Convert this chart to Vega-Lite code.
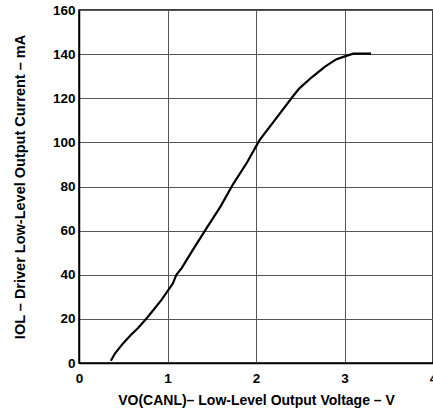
{
  "$schema": "https://vega.github.io/schema/vega-lite/v6.json",
  "autosize": {"type": "none"},
  "padding": {"left": 79, "top": 10, "right": 0, "bottom": 50},
  "width": 354,
  "height": 353,
  "background": "white",
  "config": {
    "view": {"stroke": "black", "strokeWidth": 1.5},
    "font": "Liberation Sans",
    "axis": {
      "labelFont": "Liberation Sans",
      "labelFontWeight": "bold",
      "labelFontSize": 13.5,
      "labelColor": "black",
      "titleFont": "Liberation Sans",
      "titleFontWeight": "bold",
      "titleColor": "black",
      "ticks": false,
      "domainColor": "black",
      "domainWidth": 1.5,
      "gridColor": "#555555",
      "gridWidth": 1,
      "gridOpacity": 1
    }
  },
  "data": {
    "values": [
      {"v": 0.36, "i": 1},
      {"v": 0.41, "i": 4.5},
      {"v": 0.50, "i": 9},
      {"v": 0.58, "i": 12.5},
      {"v": 0.67, "i": 16},
      {"v": 0.77, "i": 20.5},
      {"v": 0.93, "i": 28.5},
      {"v": 1.06, "i": 36},
      {"v": 1.10, "i": 40},
      {"v": 1.16, "i": 43},
      {"v": 1.29, "i": 51.5},
      {"v": 1.44, "i": 61},
      {"v": 1.60, "i": 71},
      {"v": 1.74, "i": 81},
      {"v": 1.90, "i": 91},
      {"v": 2.04, "i": 101},
      {"v": 2.23, "i": 111},
      {"v": 2.42, "i": 121},
      {"v": 2.49, "i": 124.5},
      {"v": 2.63, "i": 129.5},
      {"v": 2.78, "i": 134.3},
      {"v": 2.91, "i": 137.7},
      {"v": 3.02, "i": 139.2},
      {"v": 3.10, "i": 140.2},
      {"v": 3.30, "i": 140.2}
    ]
  },
  "mark": {"type": "line", "color": "black", "strokeWidth": 2.2, "clip": true},
  "encoding": {
    "x": {
      "field": "v",
      "type": "quantitative",
      "scale": {"domain": [0, 4], "nice": false, "zero": false},
      "axis": {
        "values": [0, 1, 2, 3, 4],
        "title": "VO(CANL)– Low-Level Output Voltage – V",
        "titleFontSize": 14,
        "labelPadding": 8,
        "titlePadding": 9,
        "labelFlush": false
      }
    },
    "y": {
      "field": "i",
      "type": "quantitative",
      "scale": {"domain": [0, 160], "nice": false},
      "axis": {
        "values": [0, 20, 40, 60, 80, 100, 120, 140, 160],
        "title": "IOL – Driver Low-Level Output Current – mA",
        "titleFontSize": 14.5,
        "labelPadding": 4,
        "titlePadding": 25,
        "labelFlush": false
      }
    }
  }
}
